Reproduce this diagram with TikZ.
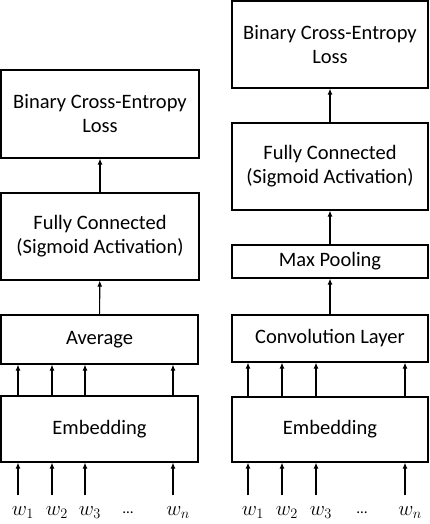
\documentclass[tikz,border=0pt]{standalone}
\usepackage{fontspec}
\setmainfont{Carlito}
\usetikzlibrary{positioning,calc}
\usetikzlibrary{arrows.meta}
\tikzset{
  layer/.style={draw=black,line width=1.2pt,fill=white,align=center,inner sep=2pt,
    font=\fontsize{20.5}{24}\selectfont},
  arr/.style={draw=black,line width=1.1pt,-{Latex[length=6pt,width=5pt]}},
  word/.style={inner sep=0pt,anchor=base,font=\fontsize{22}{26}\selectfont},
}
\newcommand{\wdots}{{\fontsize{15}{15}\selectfont\raisebox{2pt}{\textellipsis}}}

\begin{document}
\begin{tikzpicture}[x=1pt,y=1pt]
\useasboundingbox (0,0) rectangle (430,-524);
% left: averaged embeddings
\node[layer,minimum width=198pt,minimum height=88pt] (lloss) at (100,-114) {Binary Cross-Entropy\\Loss};
\node[layer,minimum width=198pt,minimum height=87pt] (lfc) at (100,-236.5) {Fully Connected\\(Sigmoid Activation)};
\node[layer,minimum width=197pt,minimum height=49pt] (lavg) at (99.5,-339.5) {Average};
\node[layer,minimum width=197pt,minimum height=66pt] (lemb) at (99.5,-429) {Embedding};
\node[word] (lw1) at (23,-515) {$w_1$};
\node[word] (lw2) at (57,-515) {$w_2$};
\node[word] (lw3) at (90,-515) {$w_3$};
\node[word] (ldots) at (128,-515) {\wdots};
\node[word] (lwn) at (178,-515) {$w_n$};
\draw[arr] (lfc) -- (lloss);
\draw[arr] (lavg) -- (lfc);
\foreach \w in {lw1,lw2,lw3,lwn}{
  \draw[arr] ([xshift=-5pt,yshift=10.5pt]\w.north) -- ([xshift=-5pt]\w.north |- lemb.south);
  \draw[arr] ([xshift=-5pt]\w.north |- lemb.north) -- ([xshift=-5pt]\w.north |- lavg.south);
}
% right: convolution and max pooling
\node[layer,minimum width=196pt,minimum height=87pt] (rloss) at (330,-44.5) {Binary Cross-Entropy\\Loss};
\node[layer,minimum width=196pt,minimum height=87pt] (rfc) at (330,-166.5) {Fully Connected\\(Sigmoid Activation)};
\node[layer,minimum width=196pt,minimum height=33pt] (rpool) at (330,-261.5) {Max Pooling};
\node[layer,minimum width=196pt,minimum height=47pt] (rconv) at (330,-338.5) {Convolution Layer};
\node[layer,minimum width=196pt,minimum height=65pt] (remb) at (330,-429.5) {Embedding};
\node[word] (rw1) at (253,-515) {$w_1$};
\node[word] (rw2) at (287,-515) {$w_2$};
\node[word] (rw3) at (321,-515) {$w_3$};
\node[word] (rdots) at (362,-515) {\wdots};
\node[word] (rwn) at (410,-515) {$w_n$};
\draw[arr] (rfc) -- (rloss);
\draw[arr] (rpool) -- (rfc);
\draw[arr] (rconv) -- (rpool);
\foreach \w in {rw1,rw2,rw3,rwn}{
  \draw[arr] ([xshift=-5pt,yshift=10.5pt]\w.north) -- ([xshift=-5pt]\w.north |- remb.south);
  \draw[arr] ([xshift=-5pt]\w.north |- remb.north) -- ([xshift=-5pt]\w.north |- rconv.south);
}
\end{tikzpicture}
\end{document}
